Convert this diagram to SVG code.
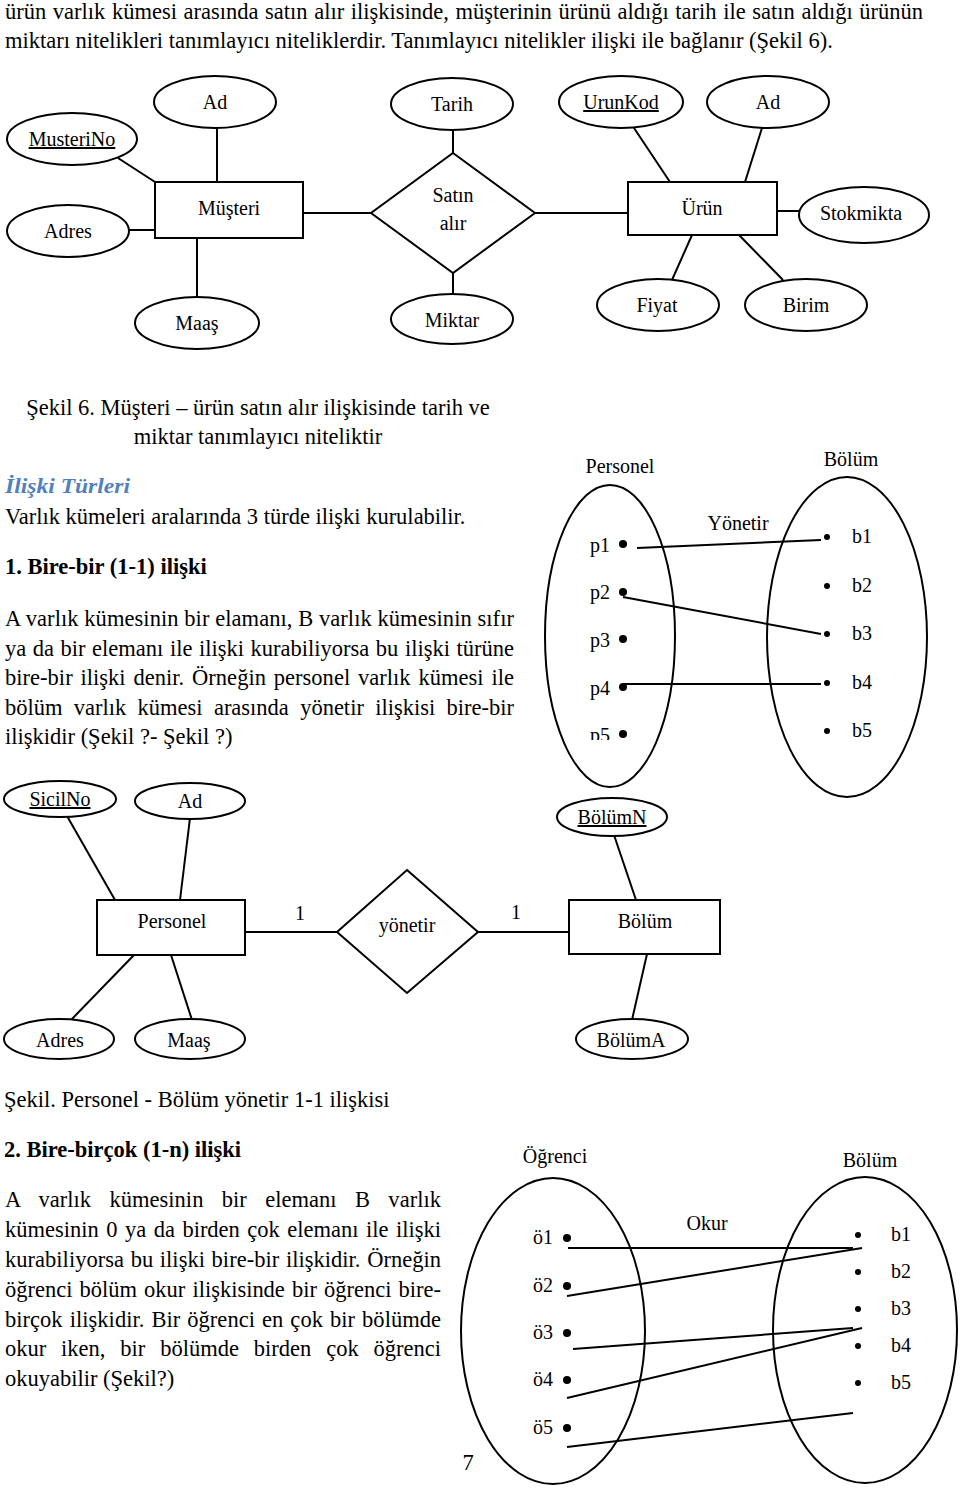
<svg xmlns="http://www.w3.org/2000/svg" width="960" height="1490" viewBox="0 0 960 1490">
<defs>
<style>
.t{font-family:"Liberation Serif","Times New Roman",serif;font-size:22.5px;fill:#000}
.bd{font-weight:bold}
.h{font-family:"Liberation Serif","Times New Roman",serif;font-size:21px;font-weight:bold;font-style:italic;fill:#4F81BD}
.n{font-family:"Liberation Serif","Times New Roman",serif;font-size:20px;fill:#000;text-anchor:middle}
.s{font-family:"Liberation Serif","Times New Roman",serif;font-size:20px;fill:#000}
.u{text-decoration:underline}
.shape{fill:#fff;stroke:#000;stroke-width:2}
.set{fill:none;stroke:#000;stroke-width:2}
.ln{stroke:#000;stroke-width:2;fill:none}
.dot{fill:#000}
</style>
<clipPath id="clipP5"><rect x="580" y="700" width="50" height="40"/></clipPath>
</defs>
<rect width="960" height="1490" fill="#fff"/>

<!-- Body text -->
<g id="text">
<text class="t" x="5" y="19" textLength="918" lengthAdjust="spacing" word-spacing="1">ürün varlık kümesi arasında satın alır ilişkisinde, müşterinin ürünü aldığı tarih ile satın aldığı ürünün</text>
<text class="t" x="5" y="48">miktarı nitelikleri tanımlayıcı niteliklerdir. Tanımlayıcı nitelikler ilişki ile bağlanır (Şekil 6).</text>
<text class="t" x="258" y="415" text-anchor="middle">Şekil 6. Müşteri – ürün satın alır ilişkisinde tarih ve</text>
<text class="t" x="258" y="444" text-anchor="middle">miktar tanımlayıcı niteliktir</text>
<text class="h" x="5" y="493" textLength="125" lengthAdjust="spacingAndGlyphs">İlişki Türleri</text>
<text class="t" x="5" y="524">Varlık kümeleri aralarında 3 türde ilişki kurulabilir.</text>
<text class="t bd" x="5" y="574">1. Bire-bir (1-1) ilişki</text>
<text class="t" x="5" y="626" textLength="509" lengthAdjust="spacing">A varlık kümesinin bir elamanı, B varlık kümesinin sıfır</text>
<text class="t" x="5" y="655.5" textLength="509" lengthAdjust="spacing" word-spacing="0.9">ya da bir elemanı ile ilişki kurabiliyorsa bu ilişki türüne</text>
<text class="t" x="5" y="685" textLength="509" lengthAdjust="spacing" word-spacing="2.2">bire-bir ilişki denir. Örneğin personel varlık kümesi ile</text>
<text class="t" x="5" y="714.5" textLength="509" lengthAdjust="spacing" word-spacing="5.7">bölüm varlık kümesi arasında yönetir ilişkisi bire-bir</text>
<text class="t" x="5" y="744">ilişkidir (Şekil ?- Şekil ?)</text>
<text class="t" x="4" y="1107">Şekil. Personel - Bölüm yönetir 1-1 ilişkisi</text>
<text class="t bd" x="4" y="1157">2. Bire-birçok (1-n) ilişki</text>
<text class="t" x="5" y="1207" textLength="436" lengthAdjust="spacing" word-spacing="12.7">A varlık kümesinin bir elemanı B varlık</text>
<text class="t" x="5" y="1237" textLength="436" lengthAdjust="spacing" word-spacing="1.9">kümesinin 0 ya da birden çok elemanı ile ilişki</text>
<text class="t" x="5" y="1267" textLength="436" lengthAdjust="spacing" word-spacing="1">kurabiliyorsa bu ilişki bire-bir ilişkidir. Örneğin</text>
<text class="t" x="5" y="1297" textLength="436" lengthAdjust="spacing" word-spacing="1.5">öğrenci bölüm okur ilişkisinde bir öğrenci bire-</text>
<text class="t" x="5" y="1327" textLength="436" lengthAdjust="spacing" word-spacing="1.4">birçok ilişkidir. Bir öğrenci en çok bir bölümde</text>
<text class="t" x="5" y="1356" textLength="436" lengthAdjust="spacing" word-spacing="9.2">okur iken, bir bölümde birden çok öğrenci</text>
<text class="t" x="5" y="1386">okuyabilir (Şekil?)</text>
<text class="t" x="468" y="1470" text-anchor="middle">7</text>
</g>

<!-- Connectors -->
<g id="connectors" class="ln">
<line x1="118" y1="158" x2="155" y2="182"/>
<line x1="217" y1="128" x2="217" y2="182"/>
<line x1="453" y1="130" x2="453" y2="153"/>
<line x1="634" y1="128" x2="670" y2="182"/>
<line x1="762" y1="128" x2="745" y2="182"/>
<line x1="129" y1="230" x2="155" y2="230"/>
<line x1="197" y1="238" x2="197" y2="297"/>
<line x1="303" y1="213" x2="371" y2="213"/>
<line x1="453" y1="273" x2="453" y2="294"/>
<line x1="535" y1="213" x2="628" y2="213"/>
<line x1="777" y1="211" x2="799" y2="211"/>
<line x1="692" y1="235" x2="672" y2="280"/>
<line x1="739" y1="235" x2="783" y2="280"/>

<line x1="637" y1="548" x2="821" y2="540"/>
<line x1="623" y1="597" x2="821" y2="634"/>
<line x1="623" y1="684" x2="821" y2="684"/>

<line x1="67" y1="816" x2="115" y2="900"/>
<line x1="190" y1="818" x2="180" y2="900"/>
<line x1="614" y1="835" x2="636" y2="900"/>
<line x1="245" y1="932" x2="337" y2="932"/>
<line x1="478" y1="932" x2="569" y2="932"/>
<line x1="134" y1="955" x2="71" y2="1020"/>
<line x1="171" y1="955" x2="192" y2="1020"/>
<line x1="647" y1="954" x2="632" y2="1020"/>

<line x1="568" y1="1248" x2="853" y2="1248"/>
<line x1="567" y1="1296" x2="862" y2="1248"/>
<line x1="573" y1="1349" x2="853" y2="1328"/>
<line x1="567" y1="1398" x2="862" y2="1328"/>
<line x1="567" y1="1447" x2="853" y2="1413"/>
</g>

<!-- Top ER diagram -->
<g id="MusteriNo"><ellipse class="shape" cx="72" cy="139" rx="65" ry="26"/><text class="n u" x="72" y="146">MusteriNo</text></g>
<g id="Ad1"><ellipse class="shape" cx="215" cy="102" rx="61" ry="26"/><text class="n" x="215" y="109">Ad</text></g>
<g id="Tarih"><ellipse class="shape" cx="452" cy="104" rx="61" ry="26"/><text class="n" x="452" y="111">Tarih</text></g>
<g id="UrunKod"><ellipse class="shape" cx="621" cy="102" rx="62" ry="26"/><text class="n u" x="621" y="109">UrunKod</text></g>
<g id="Ad2"><ellipse class="shape" cx="768" cy="102" rx="61" ry="26"/><text class="n" x="768" y="109">Ad</text></g>
<g id="Musteri"><rect class="shape" x="155" y="182" width="148" height="56"/><text class="n" x="229" y="215">Müşteri</text></g>
<g id="SatinAlir"><polygon class="shape" points="453,153 535,213 453,273 371,213"/><text class="n" x="453" y="202">Satın</text><text class="n" x="453" y="230">alır</text></g>
<g id="Urun"><rect class="shape" x="628" y="182" width="149" height="53"/><text class="n" x="702" y="215">Ürün</text></g>
<g id="Adres1"><ellipse class="shape" cx="68" cy="231" rx="61" ry="26"/><text class="n" x="68" y="238">Adres</text></g>
<g id="Stokmikta"><ellipse class="shape" cx="864" cy="215" rx="65" ry="28"/><text class="n" x="861" y="220">Stokmikta</text></g>
<g id="Maas1"><ellipse class="shape" cx="197" cy="323" rx="62" ry="26"/><text class="n" x="197" y="330">Maaş</text></g>
<g id="Miktar"><ellipse class="shape" cx="452" cy="319" rx="61" ry="25"/><text class="n" x="452" y="327">Miktar</text></g>
<g id="Fiyat"><ellipse class="shape" cx="658" cy="305" rx="61" ry="26"/><text class="n" x="657" y="312">Fiyat</text></g>
<g id="Birim"><ellipse class="shape" cx="806" cy="305" rx="61" ry="26"/><text class="n" x="806" y="312">Birim</text></g>

<!-- Set diagram 1 -->
<g id="PersonelSet">
<text class="s" x="620" y="473" text-anchor="middle">Personel</text>
<ellipse class="set" cx="610" cy="636" rx="65" ry="151"/>
<text class="s" x="590" y="552">p1</text><circle class="dot" cx="623" cy="544" r="4"/>
<text class="s" x="590" y="599">p2</text><circle class="dot" cx="623" cy="592" r="4"/>
<text class="s" x="590" y="647">p3</text><circle class="dot" cx="623" cy="639" r="4"/>
<text class="s" x="590" y="695">p4</text><circle class="dot" cx="623" cy="687" r="4"/>
<text class="s" x="590" y="742" clip-path="url(#clipP5)">p5</text><circle class="dot" cx="623" cy="734" r="4"/>
</g>
<g id="BolumSet1">
<text class="s" x="851" y="466" text-anchor="middle">Bölüm</text>
<ellipse class="set" cx="847" cy="637" rx="80" ry="160"/>
<circle class="dot" cx="827" cy="537" r="3"/><text class="s" x="852" y="543">b1</text>
<circle class="dot" cx="827" cy="586" r="3"/><text class="s" x="852" y="592">b2</text>
<circle class="dot" cx="827" cy="634" r="3"/><text class="s" x="852" y="640">b3</text>
<circle class="dot" cx="827" cy="683" r="3"/><text class="s" x="852" y="689">b4</text>
<circle class="dot" cx="827" cy="731" r="3"/><text class="s" x="852" y="737">b5</text>
</g>
<g id="YonetirLabel"><text class="s" x="738" y="530" text-anchor="middle">Yönetir</text></g>

<!-- ER diagram 2 -->
<g id="SicilNo"><ellipse class="shape" cx="60" cy="799" rx="56" ry="18"/><text class="n u" x="60" y="806">SicilNo</text></g>
<g id="Ad3"><ellipse class="shape" cx="190" cy="801" rx="55" ry="18"/><text class="n" x="190" y="808">Ad</text></g>
<g id="BolumN"><ellipse class="shape" cx="612" cy="817" rx="55" ry="19"/><text class="n u" x="612" y="824">BölümN</text></g>
<g id="Personel"><rect class="shape" x="97" y="900" width="148" height="55"/><text class="n" x="172" y="928">Personel</text></g>
<g id="yonetir"><polygon class="shape" points="407,870 478,932 407,993 337,932"/><text class="n" x="407" y="932">yönetir</text></g>
<g id="Bolum"><rect class="shape" x="569" y="900" width="151" height="54"/><text class="n" x="645" y="928">Bölüm</text></g>
<g id="card1"><text class="n" x="300" y="920">1</text></g>
<g id="card2"><text class="n" x="516" y="919">1</text></g>
<g id="Adres2"><ellipse class="shape" cx="59" cy="1039" rx="55" ry="20"/><text class="n" x="60" y="1047">Adres</text></g>
<g id="Maas2"><ellipse class="shape" cx="190" cy="1039" rx="55" ry="20"/><text class="n" x="189" y="1047">Maaş</text></g>
<g id="BolumA"><ellipse class="shape" cx="632" cy="1039" rx="56" ry="20"/><text class="n" x="631" y="1047">BölümA</text></g>

<!-- Set diagram 2 -->
<g id="OgrenciSet">
<text class="s" x="555" y="1163" text-anchor="middle">Öğrenci</text>
<ellipse class="set" cx="553" cy="1331" rx="92" ry="153"/>
<text class="s" x="533" y="1244">ö1</text><circle class="dot" cx="567" cy="1238" r="4"/>
<text class="s" x="533" y="1292">ö2</text><circle class="dot" cx="567" cy="1286" r="4"/>
<text class="s" x="533" y="1339">ö3</text><circle class="dot" cx="567" cy="1333" r="4"/>
<text class="s" x="533" y="1386">ö4</text><circle class="dot" cx="567" cy="1380" r="4"/>
<text class="s" x="533" y="1434">ö5</text><circle class="dot" cx="567" cy="1428" r="4"/>
</g>
<g id="BolumSet2">
<text class="s" x="870" y="1167" text-anchor="middle">Bölüm</text>
<ellipse class="set" cx="865" cy="1330" rx="92" ry="153"/>
<circle class="dot" cx="858" cy="1235" r="3"/><text class="s" x="891" y="1241">b1</text>
<circle class="dot" cx="858" cy="1272" r="3"/><text class="s" x="891" y="1278">b2</text>
<circle class="dot" cx="858" cy="1309" r="3"/><text class="s" x="891" y="1315">b3</text>
<circle class="dot" cx="858" cy="1346" r="3"/><text class="s" x="891" y="1352">b4</text>
<circle class="dot" cx="858" cy="1383" r="3"/><text class="s" x="891" y="1389">b5</text>
</g>
<g id="OkurLabel"><text class="s" x="707" y="1230" text-anchor="middle">Okur</text></g>
</svg>
